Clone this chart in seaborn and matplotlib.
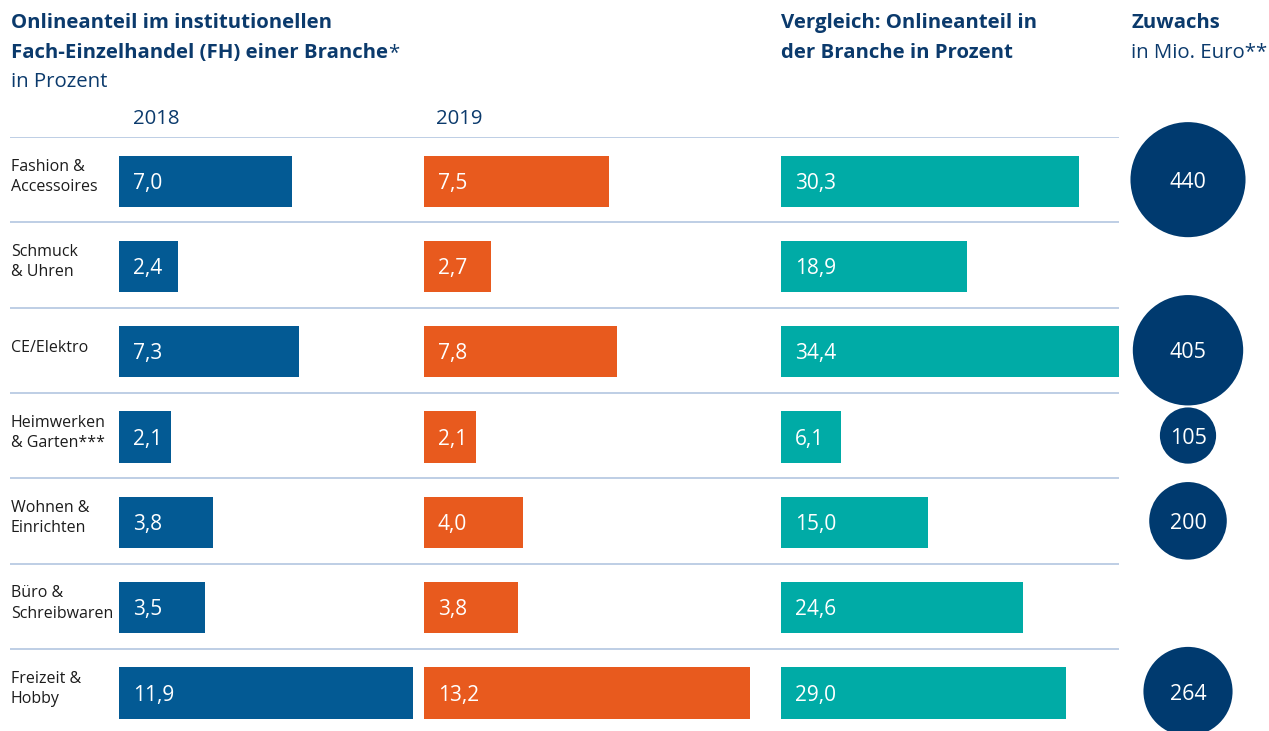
import matplotlib
matplotlib.use("Agg")
import matplotlib.pyplot as plt
import seaborn as sns
import pandas as pd
import numpy as np

# ---------------- data ----------------
categories = ["Fashion &\nAccessoires", "Schmuck\n& Uhren", "CE/Elektro",
              "Heimwerken\n& Garten***", "Wohnen &\nEinrichten",
              "Büro &\nSchreibwaren", "Freizeit &\nHobby"]
share_2018 = [7.0, 2.4, 7.3, 2.1, 3.8, 3.5, 11.9]
share_2019 = [7.5, 2.7, 7.8, 2.1, 4.0, 3.8, 13.2]
share_branche = [30.3, 18.9, 34.4, 6.1, 15.0, 24.6, 29.0]
zuwachs = [440, np.nan, 405, 105, 200, np.nan, 264]
year_labels = ["2018", "2019"]

# ---------------- style ----------------
sns.set_theme(style="white")
plt.rcParams["font.family"] = ["Open Sans", "DejaVu Sans"]

C18 = "#035a94"
C19 = "#e85a1e"
CTEAL = "#00aba6"
CNAVY = "#003a6f"
CHEAD = "#0b3a6c"
CLINE = "#b3c6e0"
CTXT = "#1c1c1c"

W, H = 1269, 731
fig = plt.figure(figsize=(W / 100, H / 100), dpi=100)
fig.patch.set_facecolor("white")

ROW_TOP, ROW_H = 137, 85.3
ROW_BOT = ROW_TOP + 7 * ROW_H


def rect(x0, x1, y0=ROW_TOP, y1=ROW_BOT):
    return [x0 / W, 1 - y1 / H, (x1 - x0) / W, (y1 - y0) / H]


df = pd.DataFrame({"cat": categories, "y2018": share_2018, "y2019": share_2019,
                   "branche": share_branche, "zuwachs": zuwachs})
df["row"] = np.arange(len(df))

# background separator lines
axbg = fig.add_axes(rect(10, 1119))
axbg.set_xlim(0, 1)
axbg.set_ylim(6.5, -0.5)
for b in np.arange(len(categories)) - 0.5:
    axbg.axhline(b, color=CLINE, lw=1.2)
axbg.axis("off")


def fmt(v):
    return f"{v:.1f}".replace(".", ",")


PX18 = 24.7
PXB = 9.83
panels = [("y2018", C18, 119, 12, PX18), ("y2019", C19, 424, 14, PX18),
          ("branche", CTEAL, 781, 35, PXB)]
for col, color, x0, xmax, pxu in panels:
    ax = fig.add_axes(rect(x0, x0 + xmax * pxu, ROW_TOP + 1.5, ROW_BOT + 1.5))
    sns.barplot(data=df, x=col, y="cat", order=categories, color=color,
                saturation=1, width=0.6, ax=ax, orient="h",
                linewidth=0, edgecolor="none")
    ax.set_xlim(0, xmax)
    ax.set_ylim(6.5, -0.5)
    ax.axis("off")
    for i, v in enumerate(df[col]):
        ax.annotate(fmt(v), xy=(0, i), xytext=(10, -1.5), textcoords="offset points",
                    ha="left", va="center", color="white", fontsize=15)

# category labels
axl = fig.add_axes(rect(0, 119))
axl.set_xlim(0, 119)
axl.set_ylim(6.5, -0.5)
axl.axis("off")
for i, c in enumerate(categories):
    axl.text(11, i - 0.03, c, ha="left", va="center", fontsize=11.5,
             color=CTXT, linespacing=1.35)

# bubbles
axz = fig.add_axes(rect(1120, 1256))
dz = df.dropna(subset=["zuwachs"]).copy()
dz["x"] = 0.5
sns.scatterplot(data=dz, x="x", y="row", size="zuwachs", sizes=(0, 440 * 15.6),
                size_norm=(0, 440), color=CNAVY, linewidth=0, legend=False,
                ax=axz, alpha=1)
for coll in axz.collections:
    coll.set_clip_on(False)
axz.set_xlim(0, 1)
axz.set_ylim(6.5, -0.5)
axz.axis("off")
for _, r in dz.iterrows():
    axz.text(0.5, r["row"] + 0.03, f"{int(r['zuwachs'])}", ha="center", va="center",
             color="white", fontsize=15.5)

# headers
def ftext(x, y, s, **kw):
    return fig.text(x / W, 1 - y / H, s, **kw)

HFS = 14.7
hk = dict(color=CHEAD, fontsize=HFS, va="baseline")
ftext(11, 28, "Onlineanteil im institutionellen", fontweight="bold", **hk)
t2 = ftext(11, 58, "Fach-Einzelhandel (FH) einer Branche", fontweight="bold", **hk)
ftext(11, 87, "in Prozent", **hk)
ftext(133, 124, year_labels[0], **hk)
ftext(436, 124, year_labels[1], **hk)
ftext(781, 28, "Vergleich: Onlineanteil in", fontweight="bold", **hk)
ftext(781, 58, "der Branche in Prozent", fontweight="bold", **hk)
ftext(1131, 28, "Zuwachs", fontweight="bold", **hk)
ftext(1131, 58, "in Mio. Euro**", **hk)

# asterisk after bold header line
fig.canvas.draw()
bb = t2.get_window_extent()
fig.text(bb.x1 / W, 1 - 58 / H, "*", color=CHEAD, fontsize=HFS, va="baseline", ha="left")

fig.savefig("out.png", dpi=100, facecolor="white")
